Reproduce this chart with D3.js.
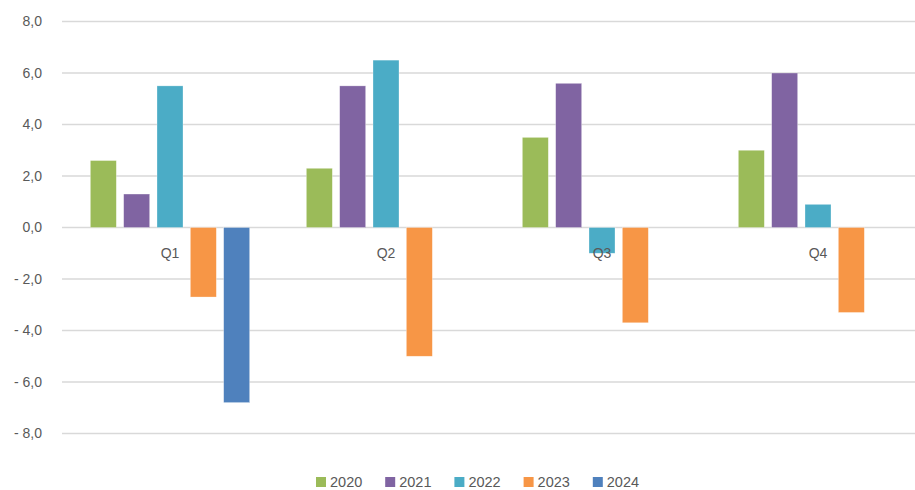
<!DOCTYPE html>
<html><head><meta charset="utf-8">
<script src="https://cdn.jsdelivr.net/npm/d3@7"></script>
<style>body{margin:0;background:#fff;} svg{display:block;}</style>
</head><body>
<svg id="c" width="915" height="490"></svg>
<script>
const categories = ["Q1", "Q2", "Q3", "Q4"];
const series = ["2020", "2021", "2022", "2023", "2024"];
const s2020 = [2.6, 2.3, 3.5, 3.0];
const s2021 = [1.3, 5.5, 5.6, 6.0];
const s2022 = [5.5, 6.5, -1.0, 0.9];
const s2023 = [-2.7, -5.0, -3.7, -3.3];
const s2024 = [-6.8, null, null, null];
const yTicks = [-8, -6, -4, -2, 0, 2, 4, 6, 8];
const colors = ["#9BBB59", "#8064A2", "#4BACC6", "#F79646", "#4F81BD"];

const values = [s2020, s2021, s2022, s2023, s2024];
const svg = d3.select("#c");
const font = "'Liberation Sans', Arial, sans-serif";

const x0 = d3.scaleBand().domain(categories).range([62, 926]).padding(0);
const x1 = d3.scaleBand().domain(series).range([0, x0.bandwidth()]).paddingInner(0.22).paddingOuter(0.85);
const y = d3.scaleLinear().domain([-8, 8]).range([433.5, 21.5]);

// gridlines
svg.append("g").selectAll("line").data(yTicks).join("line")
  .attr("x1", 62).attr("x2", 915)
  .attr("y1", d => y(d)).attr("y2", d => y(d))
  .attr("stroke", "#d9d9d9").attr("stroke-width", 1.3);

// y labels
const fmt = v => (v < 0 ? "- " : "") + Math.abs(v).toFixed(1).replace(".", ",");
svg.append("g").selectAll("text").data(yTicks).join("text")
  .attr("x", 42).attr("y", d => y(d)).attr("dy", "0.35em")
  .attr("text-anchor", "end").attr("fill", "#595959")
  .attr("font-family", font).attr("font-size", 14).text(fmt);

// bars
const barData = [];
categories.forEach((c, i) => series.forEach((s, j) => {
  const v = values[j][i];
  if (v !== null && v !== undefined) barData.push({c, s, v, color: colors[j]});
}));
svg.append("g").selectAll("rect").data(barData).join("rect")
  .attr("x", d => x0(d.c) + x1(d.s))
  .attr("width", x1.bandwidth())
  .attr("y", d => Math.min(y(d.v), y(0)))
  .attr("height", d => Math.abs(y(d.v) - y(0)))
  .attr("fill", d => d.color)
  .attr("stroke", "#ffffff").attr("stroke-opacity", 0.5).attr("stroke-width", 0.6);

// category labels
svg.append("g").selectAll("text").data(categories).join("text")
  .attr("x", d => x0(d) + x0.bandwidth() / 2).attr("y", y(0) + 30)
  .attr("text-anchor", "middle").attr("fill", "#595959")
  .attr("font-family", font).attr("font-size", 14).text(d => d);

// legend
const lg = svg.append("g");
series.forEach((s, j) => {
  const lx = 316 + j * 69.2;
  lg.append("rect").attr("x", lx).attr("y", 477).attr("width", 10).attr("height", 10).attr("fill", colors[j]);
  lg.append("text").attr("x", lx + 14).attr("y", 482).attr("dy", "0.35em")
    .attr("fill", "#595959").attr("font-family", font).attr("font-size", 14.5).text(s);
});
</script>
</body></html>
